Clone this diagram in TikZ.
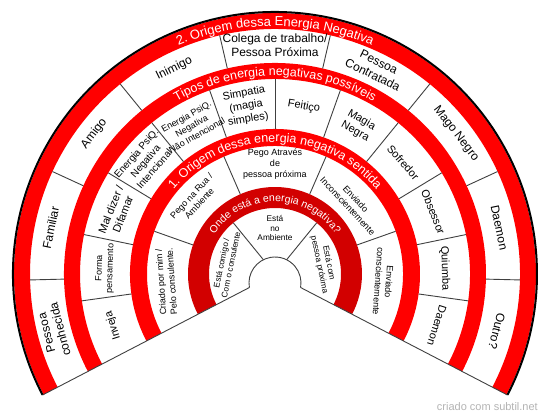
\documentclass[tikz,border=0pt]{standalone}
\usepackage{fontspec}
\setmainfont{Liberation Sans}
\usetikzlibrary{calc,decorations.text}
\definecolor{bandred}{HTML}{FF0000}
\definecolor{banddark}{HTML}{D20000}
\definecolor{divline}{HTML}{404040}
\definecolor{wmgray}{HTML}{B4B4B4}
\tikzset{
  divider/.style={draw=divline, line width=0.9pt},
  lbl/.style={align=center, inner sep=0pt, text=black},
  fA/.style={font=\fontsize{12}{14}\selectfont},
  fB/.style={font=\fontsize{11}{13}\selectfont},
  fBm/.style={font=\fontsize{10}{12}\selectfont},
  fBs/.style={font=\fontsize{9}{10.8}\selectfont},
  fC/.style={font=\fontsize{9}{10.8}\selectfont},
  fD/.style={font=\fontsize{8.3}{9.6}\selectfont},
}
\newcommand{\ringband}[3]{%
  \fill[#1] ($(C)+(207.5:#3)$) arc[start angle=207.5, end angle=-27.5, radius=#3pt]
     -- ($(C)+(-27.5:#2)$) arc[start angle=-27.5, end angle=207.5, radius=#2pt] -- cycle;}
\newcommand{\ringtext}[3]{%
  \path[decorate, decoration={text along path, text align=center,
      text={|\color{white}\fontsize{#2}{#2}\selectfont|#3}}]
    ($(C)+(178:#1)$) arc[start angle=178, end angle=2, radius=#1pt];}
\begin{document}
\begin{tikzpicture}[x=1pt,y=1pt]
\fill[white] (0,0) rectangle (550,-418);
\useasboundingbox (0,0) rectangle (550,-418);
\coordinate (C) at (275,-274);
\coordinate (H) at (275,-283);

% red bands
\ringband{bandred}{245}{261}
\ringband{bandred}{195}{211}
\ringband{bandred}{128}{145}
\ringband{banddark}{66}{87}

% outer border
\draw[line width=2pt] ($(C)+(207.5:262)$) arc[start angle=207.5, end angle=-27.5, radius=262pt];

% dividers ring A
\foreach \k in {1,...,8}
  \draw[divider] ($(C)+({207.5-\k*235/9}:211)$) -- ($(C)+({207.5-\k*235/9}:245)$);
% dividers ring B
\foreach \k in {1,...,11}
  \draw[divider] ($(C)+({207.5-\k*235/12}:145)$) -- ($(C)+({207.5-\k*235/12}:195)$);
% dividers ring C
\foreach \k in {1,...,4}
  \draw[divider] ($(C)+({207.5-\k*47}:87)$) -- ($(C)+({207.5-\k*47}:128)$);
% dividers ring D
\foreach \k in {1,2}
  \draw[divider] ($(C)+({207.5-\k*235/3}:18.4)$) -- ($(C)+({207.5-\k*235/3}:66)$);

% hole and bottom edges
\coordinate (hl) at ($(H)+(190:26)$);
\coordinate (hr) at ($(H)+(-10:26)$);
\coordinate (ol) at ($(C)+(207.5:262)$);
\coordinate (or) at ($(C)+(-27.5:262)$);
\draw[divider] (hl) arc[start angle=190, end angle=-10, radius=26pt];
\draw[divider] (hl) -- (ol);
\draw[divider] (hr) -- (or);

% band texts
\ringtext{248}{13}{2. Origem dessa Energia Negativa}
\ringtext{198.5}{12.5}{Tipos de energia negativas possíveis}
\ringtext{132}{12.5}{1. Origem dessa energia negativa sentida}
\ringtext{72.5}{10.5}{Onde está a energia negativa?}

% ring A labels
\node[lbl,fA,rotate=104.45] (a1) at ($(C)+(194.45:229)$) {Pessoa\\conhecida};
\node[lbl,fA,rotate=78.33] (a2) at ($(C)+(168.33:229)$) {Familiar};
\node[lbl,fA,rotate=52.22] (a3) at ($(C)+(142.22:229)$) {Amigo};
\node[lbl,fA,rotate=26.11] (a4) at ($(C)+(116.11:229)$) {Inimigo};
\node[lbl,fA] (a5) at ($(C)+(90:229)$) {Colega de trabalho/\\Pessoa Próxima};
\node[lbl,fA,rotate=-26.11] (a6) at ($(C)+(63.89:229)$) {Pessoa\\Contratada};
\node[lbl,fA,rotate=-52.22] (a7) at ($(C)+(37.78:229)$) {Mago Negro};
\node[lbl,fA,rotate=-78.33] (a8) at ($(C)+(11.67:229)$) {Daemon};
\node[lbl,fA,rotate=-104.44] (a9) at ($(C)+(-14.44:229)$) {Outro?};

% ring B labels
\node[lbl,fB,rotate=107.71] (b1) at ($(C)+(197.71:170)$) {Inveja};
\node[lbl,fBs,rotate=88.13] (b2) at ($(C)+(178.13:170)$) {Forma\\pensamento};
\node[lbl,fB,rotate=68.54] (b3) at ($(C)+(158.54:170)$) {Mal dizer /\\Difamar};
\node[lbl,fBm,rotate=48.96] (b4) at ($(C)+(138.96:172)$) {Energia PsiQ.\\Negativa\\Intencional};
\node[lbl,fBs,rotate=29.38] (b5) at ($(C)+(119.38:170)$) {Energia PsiQ.\\Negativa\\Não Intencional};
\node[lbl,fB,rotate=9.79] (b6) at ($(C)+(99.79:170)$) {Simpatia\\(magia\\simples)};
\node[lbl,fB,rotate=-9.79] (b7) at ($(C)+(80.21:170)$) {Feitiço};
\node[lbl,fB,rotate=-29.37] (b8) at ($(C)+(60.63:170)$) {Magia\\Negra};
\node[lbl,fB,rotate=-48.96] (b9) at ($(C)+(41.04:170)$) {Sofredor};
\node[lbl,fB,rotate=-68.54] (b10) at ($(C)+(21.46:170)$) {Obsessor};
\node[lbl,fB,rotate=-88.12] (b11) at ($(C)+(1.88:170)$) {Quiumba};
\node[lbl,fB,rotate=-107.71] (b12) at ($(C)+(-17.71:170)$) {Daemon};

% ring C labels
\node[lbl,fC,rotate=94] (c1) at ($(C)+(184:109)$) {Criado por mim /\\Pelo consulente.};
\node[lbl,fC,rotate=47] (c2) at ($(C)+(137:109)$) {Pego na Rua /\\Ambiente};
\node[lbl,fC] (c3) at ($(C)+(90:110)$) {Pego Através\\de\\pessoa próxima};
\node[lbl,fC,rotate=-47] (c4) at ($(C)+(43:105)$) {Enviado\\Inconscientemente};
\node[lbl,fC,rotate=-94] (c5) at ($(C)+(-4:109)$) {Enviado\\conscientemente};

% ring D labels
\node[lbl,fD,rotate=78.33] (d1) at ($(C)+(168.33:50)$) {Está comigo /\\Com o consulente};
\node[lbl,fD] (d2) at ($(C)+(90:46)$) {Está\\no\\Ambiente};
\node[lbl,fD,rotate=-78.33] (d3) at ($(C)+(11.67:50)$) {Está com\\pessoa próxima};

% watermark
\node[text=wmgray, font=\fontsize{11}{11}\selectfont, anchor=east, inner sep=0pt] (wm) at (538,-407) {criado com subtil.net};
\end{tikzpicture}
\end{document}
